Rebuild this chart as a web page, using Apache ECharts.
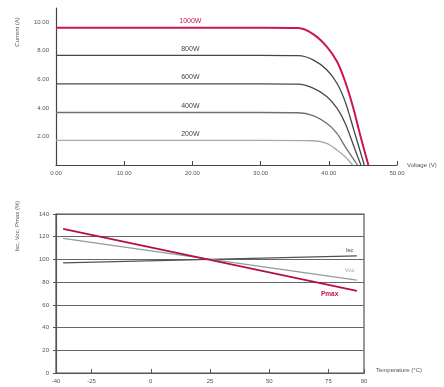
<!DOCTYPE html>
<html>
<head>
<meta charset="utf-8">
<script src="https://cdn.jsdelivr.net/npm/echarts@6/dist/echarts.min.js"></script>
<style>
  html, body { margin: 0; padding: 0; background: #fff; }
  #chart { width: 444px; height: 387px; }
</style>
</head>
<body>
<div id="chart"></div>
<script>
// I-V curves, [voltage, current] pairs
const irradiance = ['1000W', '800W', '600W', '400W', '200W'];
const curve1000 = [[0, 9.62], [30, 9.61], [35.5, 9.59], [37.7, 9.17], [39.7, 8.3], [41.2, 7.25], [42.4, 5.85], [43.6, 3.98], [44.6, 2.1], [45.8, 0]];
const curve800 = [[0, 7.68], [30, 7.68], [35.5, 7.66], [37.7, 7.37], [39.7, 6.67], [41.2, 5.73], [42.4, 4.44], [43.6, 2.57], [45.2, 0]];
const curve600 = [[0, 5.68], [30, 5.68], [35.5, 5.66], [37.7, 5.38], [39.7, 4.8], [41.2, 3.98], [42.4, 2.93], [43.6, 1.4], [44.7, 0]];
const curve400 = [[0, 3.68], [30, 3.68], [35.5, 3.66], [37.7, 3.46], [39.7, 2.93], [41.2, 2.22], [42.4, 1.29], [44.2, 0]];
const curve200 = [[0, 1.72], [30, 1.72], [37.7, 1.7], [39.7, 1.52], [41.2, 1.05], [42.4, 0.58], [43.5, 0]];
const labelAt = 19.7; // voltage where the irradiance labels sit

// temperature dependence (%)
const tempTicks = [-40, -25, 0, 25, 50, 75, 90];
const iscLine = [[-37, 96.9], [87, 103.1]];
const vocLine = [[-37, 118.6], [87, 81.8]];
const pmaxLine = [[-37, 127], [87, 72.4]];
const tempLabels = [['Isc', 84, 108], ['Voc', 84, 90.5], ['Pmax', 75.5, 69.5]];

const chart = echarts.init(document.getElementById('chart'));

const curves = [curve1000, curve800, curve600, curve400, curve200];
const curveColors = ['#cc1654', '#3d4a48', '#4a4a4a', '#707070', '#a8a8a8'];
const labelColors = ['#cc1654', '#444', '#444', '#444', '#444'];

const txt = { fontFamily: 'Liberation Sans', color: '#555', fontSize: 6 };

const ivSeries = curves.map((pts, i) => ({
  name: irradiance[i],
  type: 'line',
  xAxisIndex: 0,
  yAxisIndex: 0,
  data: pts,
  smooth: 0.3,
  showSymbol: false,
  lineStyle: { color: curveColors[i], width: i === 0 ? 2 : 1.3 },
  markPoint: {
    symbol: 'circle',
    symbolSize: 0,
    label: {
      show: true,
      position: 'top',
      distance: 3,
      formatter: irradiance[i],
      fontFamily: 'Liberation Sans',
      fontSize: 7,
      color: labelColors[i]
    },
    data: [{ coord: [labelAt, pts[0][1]] }]
  }
}));

const tempSeries = [iscLine, vocLine, pmaxLine].map((pts, i) => ({
  name: tempLabels[i][0],
  type: 'line',
  xAxisIndex: 1,
  yAxisIndex: 1,
  data: pts,
  showSymbol: false,
  lineStyle: { color: ['#4e5352', '#8f9e9a', '#b3123f'][i], width: i === 2 ? 1.8 : 1.3 },
  markPoint: {
    symbol: 'circle',
    symbolSize: 0,
    label: {
      show: true,
      position: 'inside',
      formatter: tempLabels[i][0],
      fontFamily: 'Liberation Sans',
      fontSize: i === 2 ? 6.5 : 6,
      fontWeight: i === 2 ? 'bold' : 'normal',
      color: ['#444', '#aaa', '#c8104a'][i]
    },
    data: [{ coord: [tempLabels[i][1], tempLabels[i][2]] }]
  }
}));

const option = {
  animation: false,
  grid: [
    { left: 56, right: 47, top: 8, height: 157 },
    { left: 56, right: 80, top: 214, height: 159, show: true, borderColor: '#555', borderWidth: 1.2 }
  ],
  xAxis: [
    {
      gridIndex: 0,
      type: 'value',
      min: 0,
      max: 50,
      interval: 10,
      name: 'Voltage (V)',
      nameLocation: 'end',
      nameGap: 10,
      nameTextStyle: txt,
      axisLine: { onZero: false, lineStyle: { color: '#444', width: 1.2 } },
      axisTick: { inside: true, length: 4, lineStyle: { color: '#444' } },
      axisLabel: { ...txt, margin: 5, formatter: v => v.toFixed(2) },
      splitLine: { show: false }
    },
    {
      gridIndex: 1,
      type: 'value',
      min: -40,
      max: 90,
      name: 'Temperature (°C)',
      nameLocation: 'end',
      nameGap: 12,
      nameTextStyle: { ...txt, verticalAlign: 'bottom', padding: [0, 0, 0, 0] },
      axisLine: { onZero: false, lineStyle: { color: '#555', width: 1.2 } },
      axisTick: { inside: true, length: 4, customValues: tempTicks, lineStyle: { color: '#555' } },
      axisLabel: { ...txt, margin: 5, customValues: tempTicks },
      splitLine: { show: false }
    }
  ],
  yAxis: [
    {
      gridIndex: 0,
      type: 'value',
      min: 0,
      max: 11,
      interval: 2,
      axisLine: { show: true, onZero: false, lineStyle: { color: '#444', width: 1.2 } },
      axisTick: { show: false },
      axisLabel: { ...txt, margin: 7, showMaxLabel: false, formatter: v => (v === 0 || v > 10) ? '' : v.toFixed(2) },
      splitLine: { show: false }
    },
    {
      gridIndex: 1,
      type: 'value',
      min: 0,
      max: 140,
      interval: 20,
      axisLine: { show: true, onZero: false, lineStyle: { color: '#555', width: 1.2 } },
      axisTick: { show: true, length: 3, lineStyle: { color: '#555' } },
      axisLabel: { ...txt, margin: 7 },
      splitLine: { lineStyle: { color: '#666', width: 1.1 } }
    }
  ],
  graphic: [
    { type: 'text', x: 17, y: 32, rotation: Math.PI / 2, style: { text: 'Current (A)', fill: '#555', font: '6px Liberation Sans', align: 'center', verticalAlign: 'middle' } },
    { type: 'text', x: 17, y: 226, rotation: Math.PI / 2, style: { text: 'Isc, Voc, Pmax (%)', fill: '#555', font: '6px Liberation Sans', align: 'center', verticalAlign: 'middle' } }
  ],
  series: ivSeries.concat(tempSeries)
};

chart.setOption(option);
</script>
</body>
</html>
